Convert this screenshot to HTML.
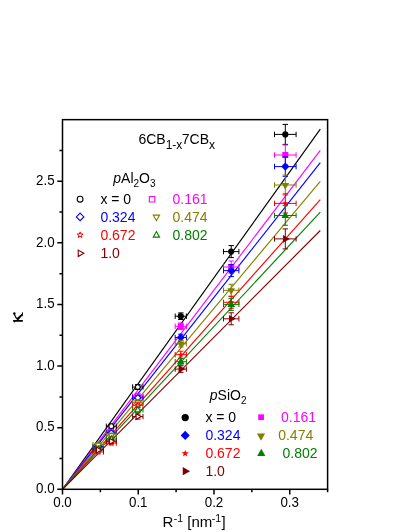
<!DOCTYPE html>
<html><head><meta charset="utf-8"><title>chart</title><style>html,body{margin:0;padding:0;background:#fff}body{width:411px;height:532px;overflow:hidden;position:relative}svg{position:absolute;left:0;top:0}</style></head><body>
<svg width="411" height="532" viewBox="0 0 411 532" style="display:block" font-family="Liberation Sans, sans-serif">
<rect width="411" height="532" fill="#fff"/>
<line x1="62.5" y1="489.3" x2="320.3" y2="129.2" stroke="#000000" stroke-width="1.15"/>
<line x1="62.5" y1="489.3" x2="320.3" y2="150.3" stroke="#FF00FF" stroke-width="1.15"/>
<line x1="62.5" y1="489.3" x2="320.3" y2="162.6" stroke="#0000FF" stroke-width="1.15"/>
<line x1="62.5" y1="489.3" x2="320.3" y2="181.3" stroke="#808000" stroke-width="1.15"/>
<line x1="62.5" y1="489.3" x2="320.3" y2="199.7" stroke="#FF0000" stroke-width="1.15"/>
<line x1="62.5" y1="489.3" x2="320.3" y2="212.1" stroke="#008000" stroke-width="1.15"/>
<line x1="62.5" y1="489.3" x2="320.3" y2="230.5" stroke="#800000" stroke-width="1.15"/>
<path d="M274.50 134.40H296.10M274.50 131.70V137.10M296.10 131.70V137.10M285.30 124.40V144.40M282.60 124.40H288.00M282.60 144.40H288.00" stroke="#000000" stroke-width="1" fill="none"/>
<circle cx="285.30" cy="134.40" r="3.10" fill="#000000"/>
<path d="M274.50 155.00H296.10M274.50 152.30V157.70M296.10 152.30V157.70M285.30 145.00V165.00M282.60 145.00H288.00M282.60 165.00H288.00" stroke="#FF00FF" stroke-width="1" fill="none"/>
<path d="M282.30 152.00L288.30 152.00L288.30 158.00L282.30 158.00Z" fill="#FF00FF"/>
<path d="M274.50 166.60H296.10M274.50 163.90V169.30M296.10 163.90V169.30M285.30 156.90V176.30M282.60 156.90H288.00M282.60 176.30H288.00" stroke="#0000FF" stroke-width="1" fill="none"/>
<path d="M285.30 162.50L289.40 166.60L285.30 170.70L281.20 166.60Z" fill="#0000FF"/>
<path d="M274.50 185.00H296.10M274.50 182.30V187.70M296.10 182.30V187.70M285.30 175.00V195.00M282.60 175.00H288.00M282.60 195.00H288.00" stroke="#808000" stroke-width="1" fill="none"/>
<path d="M285.30 189.81L289.12 183.05L281.49 183.05Z" fill="#808000"/>
<path d="M274.50 203.40H296.10M274.50 200.70V206.10M296.10 200.70V206.10M285.30 193.80V213.00M282.60 193.80H288.00M282.60 213.00H288.00" stroke="#FF0000" stroke-width="1" fill="none"/>
<path d="M285.30 200.10L286.08 202.33L288.44 202.38L286.56 203.81L287.24 206.07L285.30 204.72L283.36 206.07L284.04 203.81L282.16 202.38L284.52 202.33Z" fill="#FF0000"/>
<path d="M274.50 215.50H296.10M274.50 212.80V218.20M296.10 212.80V218.20M285.30 205.70V225.30M282.60 205.70H288.00M282.60 225.30H288.00" stroke="#008000" stroke-width="1" fill="none"/>
<path d="M285.30 211.29L289.12 218.05L281.49 218.05Z" fill="#008000"/>
<path d="M274.50 238.90H296.10M274.50 236.20V241.60M296.10 236.20V241.60M285.30 228.90V248.90M282.60 228.90H288.00M282.60 248.90H288.00" stroke="#800000" stroke-width="1" fill="none"/>
<path d="M289.81 238.90L283.05 235.09L283.05 242.72Z" fill="#800000"/>
<path d="M223.50 251.60H238.90M223.50 248.90V254.30M238.90 248.90V254.30M231.20 245.60V257.60M228.50 245.60H233.90M228.50 257.60H233.90" stroke="#000000" stroke-width="1" fill="none"/>
<circle cx="231.20" cy="251.60" r="3.10" fill="#000000"/>
<path d="M223.50 267.00H238.90M223.50 264.30V269.70M238.90 264.30V269.70M231.20 261.00V273.00M228.50 261.00H233.90M228.50 273.00H233.90" stroke="#FF00FF" stroke-width="1" fill="none"/>
<path d="M228.20 264.00L234.20 264.00L234.20 270.00L228.20 270.00Z" fill="#FF00FF"/>
<path d="M223.50 270.60H238.90M223.50 267.90V273.30M238.90 267.90V273.30M231.20 264.60V276.60M228.50 264.60H233.90M228.50 276.60H233.90" stroke="#0000FF" stroke-width="1" fill="none"/>
<path d="M231.20 266.50L235.30 270.60L231.20 274.70L227.10 270.60Z" fill="#0000FF"/>
<path d="M223.50 290.30H238.90M223.50 287.60V293.00M238.90 287.60V293.00M231.20 284.30V296.30M228.50 284.30H233.90M228.50 296.30H233.90" stroke="#808000" stroke-width="1" fill="none"/>
<path d="M231.20 295.11L235.01 288.35L227.38 288.35Z" fill="#808000"/>
<path d="M223.50 302.30H238.90M223.50 299.60V305.00M238.90 299.60V305.00M231.20 296.30V308.30M228.50 296.30H233.90M228.50 308.30H233.90" stroke="#FF0000" stroke-width="1" fill="none"/>
<path d="M231.20 299.00L231.98 301.23L234.34 301.28L232.46 302.71L233.14 304.97L231.20 303.62L229.26 304.97L229.94 302.71L228.06 301.28L230.42 301.23Z" fill="#FF0000"/>
<path d="M223.50 304.40H238.90M223.50 301.70V307.10M238.90 301.70V307.10M231.20 298.40V310.40M228.50 298.40H233.90M228.50 310.40H233.90" stroke="#008000" stroke-width="1" fill="none"/>
<path d="M231.20 300.19L235.01 306.95L227.38 306.95Z" fill="#008000"/>
<path d="M223.50 318.80H238.90M223.50 316.10V321.50M238.90 316.10V321.50M231.20 312.80V324.80M228.50 312.80H233.90M228.50 324.80H233.90" stroke="#800000" stroke-width="1" fill="none"/>
<path d="M235.71 318.80L228.95 314.99L228.95 322.62Z" fill="#800000"/>
<path d="M175.20 316.20H186.40M175.20 313.50V318.90M186.40 313.50V318.90M180.80 312.90V319.50M178.10 312.90H183.50M178.10 319.50H183.50" stroke="#000000" stroke-width="1" fill="none"/>
<circle cx="180.80" cy="316.20" r="3.10" fill="#000000"/>
<path d="M175.20 326.30H186.40M175.20 323.60V329.00M186.40 323.60V329.00M180.80 323.00V329.60M178.10 323.00H183.50M178.10 329.60H183.50" stroke="#FF00FF" stroke-width="1" fill="none"/>
<path d="M177.80 323.30L183.80 323.30L183.80 329.30L177.80 329.30Z" fill="#FF00FF"/>
<path d="M175.20 337.50H186.40M175.20 334.80V340.20M186.40 334.80V340.20M180.80 334.20V340.80M178.10 334.20H183.50M178.10 340.80H183.50" stroke="#0000FF" stroke-width="1" fill="none"/>
<path d="M180.80 333.40L184.90 337.50L180.80 341.60L176.70 337.50Z" fill="#0000FF"/>
<path d="M175.20 343.70H186.40M175.20 341.00V346.40M186.40 341.00V346.40M180.80 340.40V347.00M178.10 340.40H183.50M178.10 347.00H183.50" stroke="#808000" stroke-width="1" fill="none"/>
<path d="M180.80 348.51L184.62 341.75L176.99 341.75Z" fill="#808000"/>
<path d="M175.20 354.70H186.40M175.20 352.00V357.40M186.40 352.00V357.40M180.80 351.20V358.20M178.10 351.20H183.50M178.10 358.20H183.50" stroke="#FF0000" stroke-width="1" fill="none"/>
<path d="M180.80 351.40L181.58 353.63L183.94 353.68L182.06 355.11L182.74 357.37L180.80 356.02L178.86 357.37L179.54 355.11L177.66 353.68L180.02 353.63Z" fill="#FF0000"/>
<path d="M175.20 361.70H186.40M175.20 359.00V364.40M186.40 359.00V364.40M180.80 358.40V365.00M178.10 358.40H183.50M178.10 365.00H183.50" stroke="#008000" stroke-width="1" fill="none"/>
<path d="M180.80 357.49L184.62 364.25L176.99 364.25Z" fill="#008000"/>
<path d="M175.20 369.10H186.40M175.20 366.40V371.80M186.40 366.40V371.80M180.80 365.80V372.40M178.10 365.80H183.50M178.10 372.40H183.50" stroke="#800000" stroke-width="1" fill="none"/>
<path d="M185.31 369.10L178.55 365.29L178.55 372.92Z" fill="#800000"/>
<path d="M132.60 387.00H143.00M132.60 384.30V389.70M143.00 384.30V389.70M137.80 384.50V389.50M135.10 384.50H140.50M135.10 389.50H140.50" stroke="#000000" stroke-width="1" fill="none"/>
<circle cx="137.80" cy="387.00" r="2.40" fill="#fff" stroke="#000000" stroke-width="1.1"/>
<path d="M132.60 396.30H143.00M132.60 393.60V399.00M143.00 393.60V399.00M137.80 393.80V398.80M135.10 393.80H140.50M135.10 398.80H140.50" stroke="#FF00FF" stroke-width="1" fill="none"/>
<path d="M135.55 394.05L140.05 394.05L140.05 398.55L135.55 398.55Z" fill="#fff" stroke="#FF00FF" stroke-width="1.1" stroke-linejoin="miter"/>
<path d="M132.60 397.80H143.00M132.60 395.10V400.50M143.00 395.10V400.50M137.80 395.30V400.30M135.10 395.30H140.50M135.10 400.30H140.50" stroke="#0000FF" stroke-width="1" fill="none"/>
<path d="M137.80 394.68L140.92 397.80L137.80 400.92L134.68 397.80Z" fill="#fff" stroke="#0000FF" stroke-width="1.1" stroke-linejoin="miter"/>
<path d="M132.60 402.30H143.00M132.60 399.60V405.00M143.00 399.60V405.00M137.80 399.80V404.80M135.10 399.80H140.50M135.10 404.80H140.50" stroke="#808000" stroke-width="1" fill="none"/>
<path d="M137.80 406.01L140.68 400.90L134.92 400.90Z" fill="#fff" stroke="#808000" stroke-width="1.1" stroke-linejoin="miter"/>
<path d="M132.60 405.30H143.00M132.60 402.60V408.00M143.00 402.60V408.00M137.80 402.80V407.80M135.10 402.80H140.50M135.10 407.80H140.50" stroke="#FF0000" stroke-width="1" fill="none"/>
<path d="M137.80 402.70L138.41 404.46L140.27 404.50L138.79 405.62L139.33 407.40L137.80 406.34L136.27 407.40L136.81 405.62L135.33 404.50L137.19 404.46Z" fill="#fff" stroke="#FF0000" stroke-width="1.0" stroke-linejoin="miter"/>
<path d="M132.60 409.80H143.00M132.60 407.10V412.50M143.00 407.10V412.50M137.80 407.30V412.30M135.10 407.30H140.50M135.10 412.30H140.50" stroke="#008000" stroke-width="1" fill="none"/>
<path d="M137.80 406.69L140.68 411.80L134.92 411.80Z" fill="#fff" stroke="#008000" stroke-width="1.1" stroke-linejoin="miter"/>
<path d="M132.60 416.60H143.00M132.60 413.90V419.30M143.00 413.90V419.30M137.80 414.10V419.10M135.10 414.10H140.50M135.10 419.10H140.50" stroke="#800000" stroke-width="1" fill="none"/>
<path d="M141.21 416.60L136.10 413.72L136.10 419.48Z" fill="#fff" stroke="#800000" stroke-width="1.1" stroke-linejoin="miter"/>
<path d="M106.30 426.20H116.30M106.30 423.50V428.90M116.30 423.50V428.90M111.30 424.20V428.20M108.60 424.20H114.00M108.60 428.20H114.00" stroke="#000000" stroke-width="1" fill="none"/>
<circle cx="111.30" cy="426.20" r="2.40" fill="#fff" stroke="#000000" stroke-width="1.1"/>
<path d="M106.30 431.50H116.30M106.30 428.80V434.20M116.30 428.80V434.20M111.30 429.50V433.50M108.60 429.50H114.00M108.60 433.50H114.00" stroke="#FF00FF" stroke-width="1" fill="none"/>
<path d="M109.05 429.25L113.55 429.25L113.55 433.75L109.05 433.75Z" fill="#fff" stroke="#FF00FF" stroke-width="1.1" stroke-linejoin="miter"/>
<path d="M106.30 433.00H116.30M106.30 430.30V435.70M116.30 430.30V435.70M111.30 431.00V435.00M108.60 431.00H114.00M108.60 435.00H114.00" stroke="#0000FF" stroke-width="1" fill="none"/>
<path d="M111.30 429.88L114.42 433.00L111.30 436.12L108.18 433.00Z" fill="#fff" stroke="#0000FF" stroke-width="1.1" stroke-linejoin="miter"/>
<path d="M106.30 435.00H116.30M106.30 432.30V437.70M116.30 432.30V437.70M111.30 433.00V437.00M108.60 433.00H114.00M108.60 437.00H114.00" stroke="#808000" stroke-width="1" fill="none"/>
<path d="M111.30 438.71L114.18 433.60L108.42 433.60Z" fill="#fff" stroke="#808000" stroke-width="1.1" stroke-linejoin="miter"/>
<path d="M106.30 443.00H116.30M106.30 440.30V445.70M116.30 440.30V445.70M111.30 441.00V445.00M108.60 441.00H114.00M108.60 445.00H114.00" stroke="#FF0000" stroke-width="1" fill="none"/>
<path d="M111.30 440.40L111.91 442.16L113.77 442.20L112.29 443.32L112.83 445.10L111.30 444.04L109.77 445.10L110.31 443.32L108.83 442.20L110.69 442.16Z" fill="#fff" stroke="#FF0000" stroke-width="1.0" stroke-linejoin="miter"/>
<path d="M106.30 439.00H116.30M106.30 436.30V441.70M116.30 436.30V441.70M111.30 437.00V441.00M108.60 437.00H114.00M108.60 441.00H114.00" stroke="#008000" stroke-width="1" fill="none"/>
<path d="M111.30 435.89L114.18 441.00L108.42 441.00Z" fill="#fff" stroke="#008000" stroke-width="1.1" stroke-linejoin="miter"/>
<path d="M106.30 441.30H116.30M106.30 438.60V444.00M116.30 438.60V444.00M111.30 439.30V443.30M108.60 439.30H114.00M108.60 443.30H114.00" stroke="#800000" stroke-width="1" fill="none"/>
<path d="M114.71 441.30L109.60 438.42L109.60 444.18Z" fill="#fff" stroke="#800000" stroke-width="1.1" stroke-linejoin="miter"/>
<path d="M92.90 447.00H103.50M92.90 444.30V449.70M103.50 444.30V449.70M98.20 445.20V448.80M95.50 445.20H100.90M95.50 448.80H100.90" stroke="#000000" stroke-width="1" fill="none"/>
<circle cx="98.20" cy="447.00" r="2.40" fill="#fff" stroke="#000000" stroke-width="1.1"/>
<path d="M92.90 447.80H103.50M92.90 445.10V450.50M103.50 445.10V450.50M98.20 446.00V449.60M95.50 446.00H100.90M95.50 449.60H100.90" stroke="#FF00FF" stroke-width="1" fill="none"/>
<path d="M95.95 445.55L100.45 445.55L100.45 450.05L95.95 450.05Z" fill="#fff" stroke="#FF00FF" stroke-width="1.1" stroke-linejoin="miter"/>
<path d="M92.90 446.60H103.50M92.90 443.90V449.30M103.50 443.90V449.30M98.20 444.80V448.40M95.50 444.80H100.90M95.50 448.40H100.90" stroke="#0000FF" stroke-width="1" fill="none"/>
<path d="M98.20 443.48L101.32 446.60L98.20 449.72L95.08 446.60Z" fill="#fff" stroke="#0000FF" stroke-width="1.1" stroke-linejoin="miter"/>
<path d="M92.90 444.60H103.50M92.90 441.90V447.30M103.50 441.90V447.30M98.20 442.80V446.40M95.50 442.80H100.90M95.50 446.40H100.90" stroke="#808000" stroke-width="1" fill="none"/>
<path d="M98.20 448.31L101.08 443.20L95.32 443.20Z" fill="#fff" stroke="#808000" stroke-width="1.1" stroke-linejoin="miter"/>
<path d="M92.90 452.00H103.50M92.90 449.30V454.70M103.50 449.30V454.70M98.20 450.20V453.80M95.50 450.20H100.90M95.50 453.80H100.90" stroke="#FF0000" stroke-width="1" fill="none"/>
<path d="M98.20 449.40L98.81 451.16L100.67 451.20L99.19 452.32L99.73 454.10L98.20 453.04L96.67 454.10L97.21 452.32L95.73 451.20L97.59 451.16Z" fill="#fff" stroke="#FF0000" stroke-width="1.0" stroke-linejoin="miter"/>
<path d="M92.90 449.00H103.50M92.90 446.30V451.70M103.50 446.30V451.70M98.20 447.20V450.80M95.50 447.20H100.90M95.50 450.80H100.90" stroke="#008000" stroke-width="1" fill="none"/>
<path d="M98.20 445.89L101.08 451.00L95.32 451.00Z" fill="#fff" stroke="#008000" stroke-width="1.1" stroke-linejoin="miter"/>
<path d="M92.90 450.00H103.50M92.90 447.30V452.70M103.50 447.30V452.70M98.20 448.20V451.80M95.50 448.20H100.90M95.50 451.80H100.90" stroke="#800000" stroke-width="1" fill="none"/>
<path d="M101.61 450.00L96.50 447.12L96.50 452.88Z" fill="#fff" stroke="#800000" stroke-width="1.1" stroke-linejoin="miter"/>
<rect x="62.5" y="119.65" width="265.1" height="369.65" fill="none" stroke="#000" stroke-width="1.5"/>
<path d="M62.50 489.3v5.2M100.37 489.3v3.0M138.24 489.3v5.2M176.11 489.3v3.0M213.99 489.3v5.2M251.86 489.3v3.0M289.73 489.3v5.2M327.60 489.3v3.0M62.5 489.30h-5.2M62.5 458.50h-3.0M62.5 427.69h-5.2M62.5 396.89h-3.0M62.5 366.08h-5.2M62.5 335.28h-3.0M62.5 304.48h-5.2M62.5 273.67h-3.0M62.5 242.87h-5.2M62.5 212.06h-3.0M62.5 181.26h-5.2M62.5 150.45h-3.0" stroke="#000" stroke-width="1.5" fill="none"/>
<path d="M13.11 320.01L22.84 320.01L22.84 321.67L14.91 321.67L14.42 323.03L13.84 321.67L13.11 321.67ZM17.25 319.53L16.66 318.17L21.87 313.69L22.40 311.94L22.99 312.23L22.89 316.46L22.11 315.83L18.46 320.11Z" fill="#000"/>
<path d="M18.12 320.01Q15.30 317.44 14.23 314.03" stroke="#000" stroke-width="1.1" fill="none"/>
<circle cx="14.33" cy="313.54" r="1.25" fill="#000"/>
<circle cx="80.10" cy="199.20" r="2.90" fill="#fff" stroke="#000000" stroke-width="1.1"/>
<path d="M80.10 213.11L83.89 216.90L80.10 220.69L76.31 216.90Z" fill="#fff" stroke="#0000FF" stroke-width="1.1" stroke-linejoin="miter"/>
<path d="M80.10 231.84L80.84 233.98L83.11 234.02L81.30 235.39L81.96 237.56L80.10 236.26L78.24 237.56L78.90 235.39L77.09 234.02L79.36 233.98Z" fill="#fff" stroke="#FF0000" stroke-width="1.0" stroke-linejoin="miter"/>
<path d="M83.84 253.30L78.23 250.14L78.23 256.46Z" fill="#fff" stroke="#800000" stroke-width="1.1" stroke-linejoin="miter"/>
<path d="M149.37 196.52L154.83 196.52L154.83 201.98L149.37 201.98Z" fill="#fff" stroke="#FF00FF" stroke-width="1.1" stroke-linejoin="miter"/>
<path d="M156.40 220.74L159.56 215.13L153.24 215.13Z" fill="#fff" stroke="#808000" stroke-width="1.1" stroke-linejoin="miter"/>
<path d="M156.40 231.56L159.56 237.17L153.24 237.17Z" fill="#fff" stroke="#008000" stroke-width="1.1" stroke-linejoin="miter"/>
<circle cx="185.20" cy="417.60" r="3.63" fill="#000000"/>
<path d="M185.20 430.84L189.76 435.40L185.20 439.96L180.64 435.40Z" fill="#0000FF"/>
<path d="M185.20 449.64L186.11 452.25L188.87 452.31L186.67 453.98L187.47 456.62L185.20 455.04L182.93 456.62L183.73 453.98L181.53 452.31L184.29 452.25Z" fill="#FF0000"/>
<path d="M190.04 471.20L182.78 467.10L182.78 475.30Z" fill="#800000"/>
<path d="M258.25 414.35L263.95 414.35L263.95 420.05L258.25 420.05Z" fill="#FF00FF"/>
<path d="M261.00 440.64L265.10 433.38L256.90 433.38Z" fill="#808000"/>
<path d="M261.30 448.66L265.40 455.92L257.20 455.92Z" fill="#008000"/>
</svg>
<svg width="411" height="532" viewBox="0 0 411 532" style="display:block;will-change:transform" font-family="Liberation Sans, sans-serif">
<text transform="translate(62.50,507.1) scale(0.97,1)" font-size="13.8" text-anchor="middle">0.0</text>
<text transform="translate(138.24,507.1) scale(0.97,1)" font-size="13.8" text-anchor="middle">0.1</text>
<text transform="translate(213.99,507.1) scale(0.97,1)" font-size="13.8" text-anchor="middle">0.2</text>
<text transform="translate(289.73,507.1) scale(0.97,1)" font-size="13.8" text-anchor="middle">0.3</text>
<text transform="translate(54.6,493.10) scale(0.97,1)" font-size="13.8" text-anchor="end">0.0</text>
<text transform="translate(54.6,431.49) scale(0.97,1)" font-size="13.8" text-anchor="end">0.5</text>
<text transform="translate(54.6,369.88) scale(0.97,1)" font-size="13.8" text-anchor="end">1.0</text>
<text transform="translate(54.6,308.28) scale(0.97,1)" font-size="13.8" text-anchor="end">1.5</text>
<text transform="translate(54.6,246.67) scale(0.97,1)" font-size="13.8" text-anchor="end">2.0</text>
<text transform="translate(54.6,185.06) scale(0.97,1)" font-size="13.8" text-anchor="end">2.5</text>
<text x="162.5" y="527.2" font-size="15">R<tspan font-size="10.5" dy="-4.8" dx="0.4">-1</tspan><tspan dy="4.8"> [nm</tspan><tspan font-size="10.5" dy="-4.8" dx="-0.6">-1</tspan><tspan dy="4.8" dx="0.6">]</tspan></text>
<text x="138.4" y="143.9" font-size="14">6CB<tspan font-size="12" dy="5">1-x</tspan><tspan dy="-5" dx="-0.5">7CB</tspan><tspan font-size="12" dy="5">x</tspan></text>
<text x="113.3" y="183.3" font-size="14"><tspan font-style="italic">p</tspan>Al<tspan font-size="10" dy="3.8">2</tspan><tspan dy="-3.8">O</tspan><tspan font-size="10" dy="3.8">3</tspan></text>
<text x="100.4" y="203.95" font-size="14" fill="#000000">x = 0</text>
<text x="100.4" y="221.65" font-size="14" fill="#0000FF">0.324</text>
<text x="100.4" y="239.75" font-size="14" fill="#FF0000">0.672</text>
<text x="100.4" y="258.05" font-size="14" fill="#800000">1.0</text>
<text x="172.5" y="203.95" font-size="14" fill="#FF00FF">0.161</text>
<text x="172.5" y="221.65" font-size="14" fill="#808000">0.474</text>
<text x="172.5" y="239.75" font-size="14" fill="#008000">0.802</text>
<text x="209.8" y="400.3" font-size="14"><tspan font-style="italic">p</tspan>SiO<tspan font-size="10" dy="3.8">2</tspan></text>
<text x="205.4" y="422.35" font-size="14" fill="#000000">x = 0</text>
<text x="205.4" y="440.15" font-size="14" fill="#0000FF">0.324</text>
<text x="205.4" y="458.25" font-size="14" fill="#FF0000">0.672</text>
<text x="205.4" y="475.95" font-size="14" fill="#800000">1.0</text>
<text x="281.0" y="422.35" font-size="14" fill="#FF00FF">0.161</text>
<text x="278.2" y="440.15" font-size="14" fill="#808000">0.474</text>
<text x="282.5" y="458.25" font-size="14" fill="#008000">0.802</text>
</svg>
</body></html>
